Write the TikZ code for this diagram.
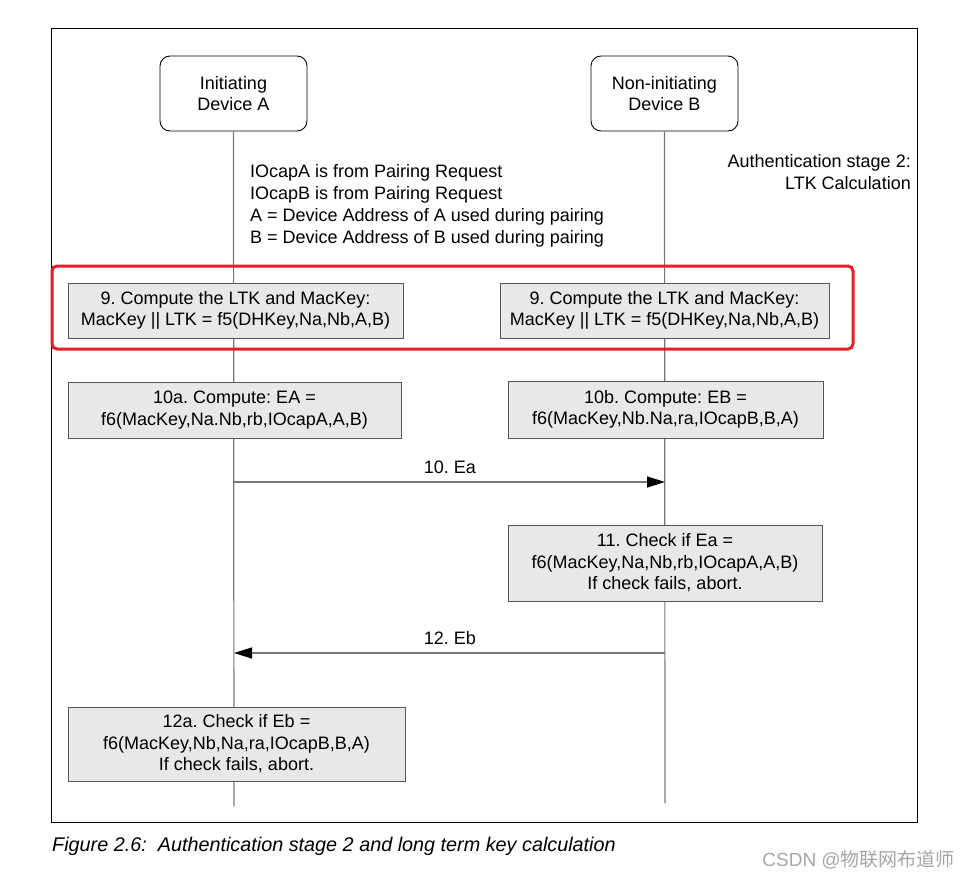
\documentclass[tikz,border=0pt]{standalone}
\usepackage{fontspec}
\setmainfont{Liberation Sans}
\newfontfamily\cjkfont{Noto Sans CJK SC}
\usetikzlibrary{arrows.meta}
\frenchspacing
\definecolor{boxfill}{RGB}{232,232,232}
\definecolor{boxdraw}{RGB}{85,85,85}
\definecolor{lifegray}{RGB}{120,120,120}
\definecolor{hlred}{RGB}{232,30,36}
\tikzset{
  txt/.style={font=\fontsize{18}{21.5}\selectfont, inner sep=0pt, align=center},
  devbox/.style={txt, draw=black, line width=0.9pt, rounded corners=10pt, minimum width=147pt, minimum height=75pt, fill=white},
  stepbox/.style={txt, draw=boxdraw, line width=0.9pt, fill=boxfill},
  lifeline/.style={draw=lifegray, line width=1.2pt},
  msg/.style={draw=lifegray, line width=1.2pt, -{Triangle[length=18pt,width=11pt,color=black]}},
}
\begin{document}
\frenchspacing
\begin{tikzpicture}[x=1pt,y=-1pt]
\useasboundingbox (0,0) rectangle (970,878);
\fill[white] (0,0) rectangle (970,878);
% frame
\draw[black, line width=1pt] (51,28) rectangle (917,822);
% devices
\node[devbox] (devA) at (233.5,93.5) {Initiating\\Device A};
\node[devbox] (devB) at (664.5,93.5) {Non-initiating\\Device B};
\coordinate (endA) at (234,806);
\coordinate (endB) at (665,803);
\draw[lifeline] (devA.south) -- (endA);
\draw[lifeline] (devB.south) -- (endB);
% notes
\node[txt, anchor=east, align=right] (stage) at (911,172) {Authentication stage 2:\\LTK Calculation};
\node[txt, anchor=west, align=left, font=\fontsize{18}{22}\selectfont] (notes) at (250,206) {IOcapA is from Pairing Request\\IOcapB is from Pairing Request\\A = Device Address of A used during pairing\\B = Device Address of B used during pairing};
% step 9
\node[stepbox, minimum width=335pt, minimum height=55pt] (s9a) at (235.5,310.5) {9. Compute the LTK and MacKey:\\MacKey || LTK = f5(DHKey,Na,Nb,A,B)};
\node[stepbox, minimum width=329pt, minimum height=55pt] (s9b) at (664.5,310.5) {9. Compute the LTK and MacKey:\\MacKey || LTK = f5(DHKey,Na,Nb,A,B)};
\node[draw=hlred, line width=3pt, rounded corners=5pt, minimum width=801pt, minimum height=83pt, inner sep=0pt] (hl) at (452.5,307.5) {};
% step 10
\node[stepbox, minimum width=333pt, minimum height=56pt] (s10a) at (234.5,410) {10a. Compute: EA =\\f6(MacKey,Na.Nb,rb,IOcapA,A,B)};
\node[stepbox, minimum width=315pt, minimum height=57pt] (s10b) at (665.5,409.5) {10b. Compute: EB =\\f6(MacKey,Nb.Na,ra,IOcapB,B,A)};
% message 10
\coordinate (m10a) at (234,482);
\coordinate (m10b) at (665,482);
\draw[msg] (m10a) -- (m10b);
\node[txt] (l10) at (450,467) {10. Ea};
% step 11
\node[stepbox, minimum width=314pt, minimum height=76pt] (s11) at (665,563) {11. Check if Ea =\\f6(MacKey,Na,Nb,rb,IOcapA,A,B)\\If check fails, abort.};
% message 12
\coordinate (m12b) at (665,653);
\coordinate (m12a) at (234,653);
\draw[msg] (m12b) -- (m12a);
\node[txt] (l12) at (450,638) {12. Eb};
% step 12a
\node[stepbox, minimum width=337pt, minimum height=74pt] (s12) at (236.5,744) {12a. Check if Eb =\\f6(MacKey,Nb,Na,ra,IOcapB,B,A)\\If check fails, abort.};
% caption
\node[anchor=west, inner sep=0pt, font=\fontsize{19.8}{22}\selectfont\itshape] (cap) at (52,846) {Figure 2.6:\ \ Authentication stage 2 and long term key calculation};
% watermark
\node[anchor=east, inner sep=0pt, text=gray!70, font=\fontsize{19}{21}\selectfont] (wm) at (955,860) {CSDN @{\cjkfont 物联网布道师}};
\end{tikzpicture}
\end{document}
